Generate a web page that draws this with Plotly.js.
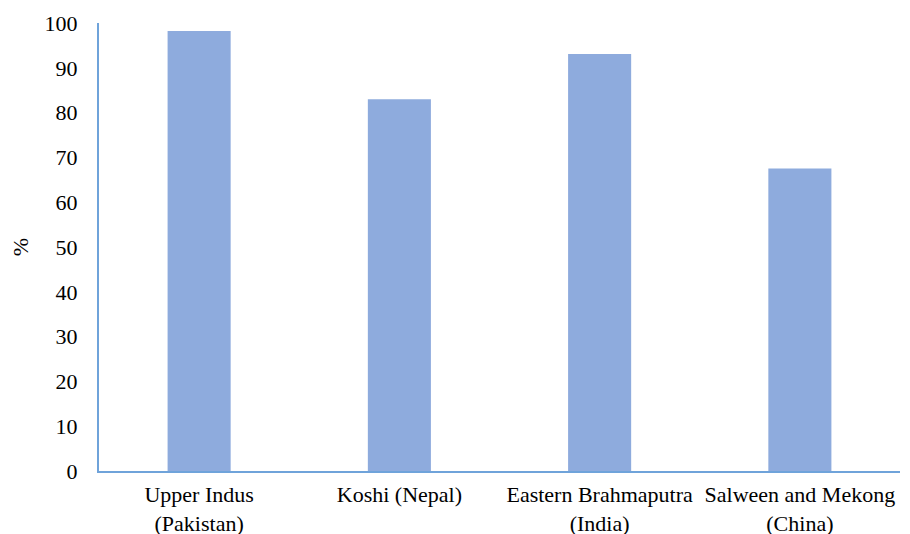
<!DOCTYPE html>
<html>
<head>
<meta charset="utf-8">
<script src="https://cdn.plot.ly/plotly-3.0.1.min.js"></script>
<style>html,body{margin:0;padding:0;background:#fff;}#chart{width:910px;height:534px;}</style>
</head>
<body>
<div id="chart"></div>
<script>
const categories = ["Upper Indus<br>(Pakistan)", "Koshi (Nepal)", "Eastern Brahmaputra<br>(India)", "Salween and Mekong<br>(China)"];
const values = [98.2, 83.0, 93.1, 67.5];
const yTicks = [0, 10, 20, 30, 40, 50, 60, 70, 80, 90, 100];

const font = {family: "Liberation Serif, Times New Roman, serif", size: 22, color: "#000"};

Plotly.newPlot("chart", [{
  type: "bar",
  x: categories,
  y: values,
  marker: {color: "#8EABDD"},
  hoverinfo: "skip"
}], {
  width: 910, height: 534,
  margin: {l: 99, r: 10, t: 23, b: 63},
  paper_bgcolor: "#fff", plot_bgcolor: "#fff",
  bargap: 0.685,
  showlegend: false,
  font: font,
  xaxis: {
    showline: true, linecolor: "#6FA3DA", linewidth: 2,
    showgrid: false, zeroline: false,
    ticks: "", tickfont: font,
    ticklabelstandoff: 3
  },
  yaxis: {
    range: [0, 100], tickvals: yTicks,
    showline: true, linecolor: "#6FA3DA", linewidth: 2,
    showgrid: false, zeroline: false,
    ticks: "", tickfont: font,
    ticklabelstandoff: 15,
    title: {text: "%", font: font, standoff: 10}
  }
}, {staticPlot: true});
</script>
</body>
</html>
